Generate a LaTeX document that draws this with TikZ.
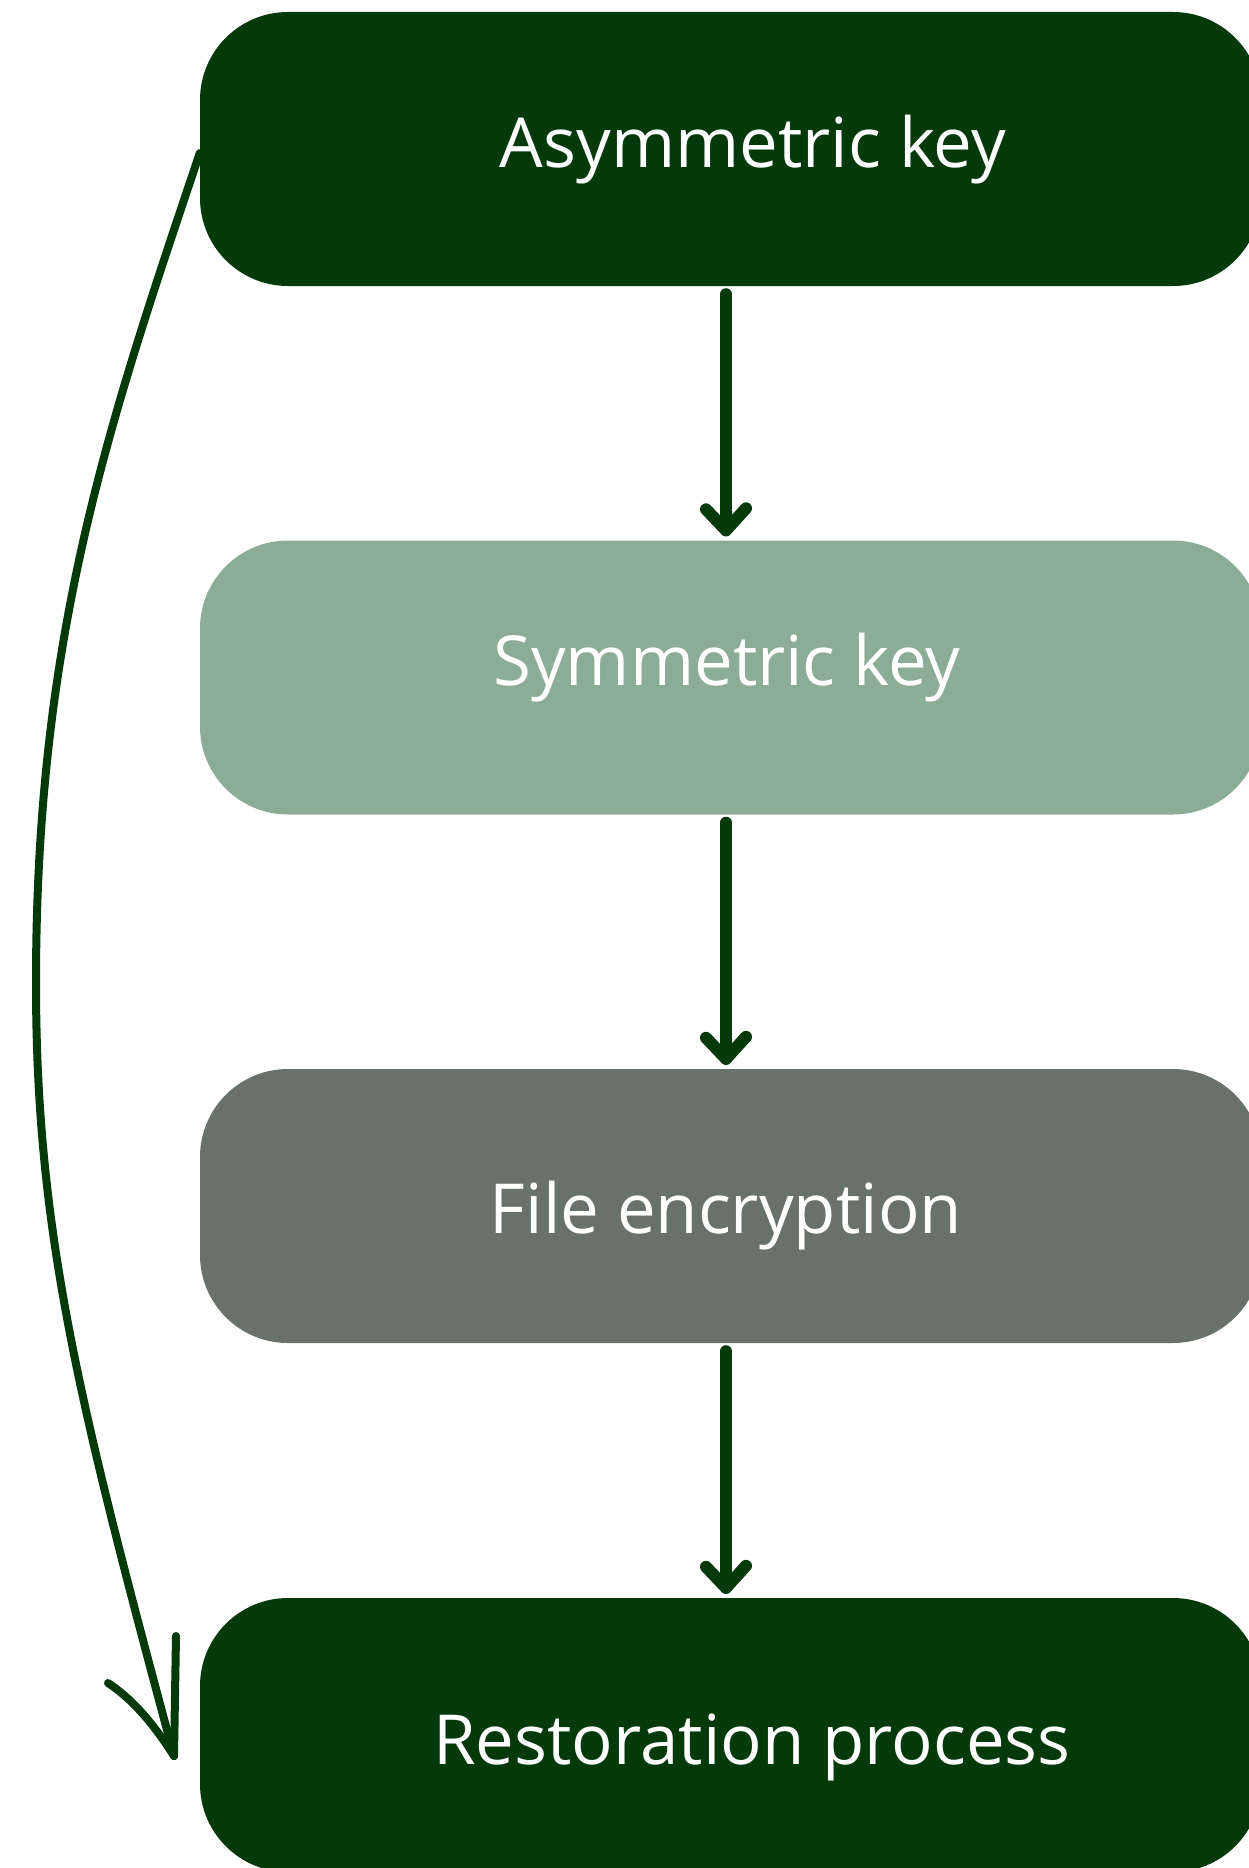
\documentclass[tikz,border=0pt]{standalone}
\usepackage{fontspec}
\setmainfont{Open Sans}
\definecolor{forest}{HTML}{04390A}
\definecolor{sage}{HTML}{8BAC95}
\definecolor{slate}{HTML}{68726A}
\tikzset{
  stepbox/.style={rectangle, rounded corners=88pt, minimum width=1061pt,
    minimum height=274pt, inner sep=0pt, draw=none},
  boxtext/.style={anchor=base, inner sep=0pt, text=white,
    font=\fontsize{69}{80}\selectfont},
  flowline/.style={draw=forest, line width=12pt, line cap=round, line join=round},
  sideline/.style={draw=forest, line width=8pt, line cap=round, line join=round}
}
\begin{document}
\begin{tikzpicture}[x=1pt, y=-1pt]
  \useasboundingbox (0,0) rectangle (1249,1868);

  % the four stages
  \node[stepbox, fill=forest] (a) at (730.5,149) {};
  \node[stepbox, fill=sage]   (b) at (730.5,677.5) {};
  \node[stepbox, fill=slate]  (c) at (730.5,1206) {};
  \node[stepbox, fill=forest] (d) at (730.5,1735) {};

  \node[boxtext] (ta) at (753,167)  {Asymmetric key};
  \node[boxtext] (tb) at (727,685)  {Symmetric key};
  \node[boxtext] (tc) at (726,1233) {File encryption};
  \node[boxtext] (td) at (752,1764) {Restoration process};

  % straight arrows between consecutive stages
  \foreach \s/\t/\n in {a/b/1, b/c/2, c/d/3} {
    \coordinate (s\n) at ([shift={(-4.5,8)}]\s.south);
    \coordinate (e\n) at ([shift={(-4.5,-10)}]\t.north);
    \draw[flowline] (s\n) -- (e\n);
    \draw[flowline] ([shift={(-20,-21)}]e\n) -- (e\n) -- ([shift={(20,-22)}]e\n);
  }

  % curved bypass from the first stage to the last
  \coordinate (cs) at ([yshift=-4pt]a.west);
  \coordinate (cm) at (36,983);
  \coordinate (ct) at (174,1756);
  \draw[sideline] (cs) .. controls (110,420) and (36,633) .. (cm)
                       .. controls (36,1233) and (79.5,1405) .. (ct);
  \draw[sideline] (176,1636) -- (ct);
  \draw[sideline] (108,1683) .. controls (128,1696) and (150,1718) .. (ct);
\end{tikzpicture}
\end{document}
